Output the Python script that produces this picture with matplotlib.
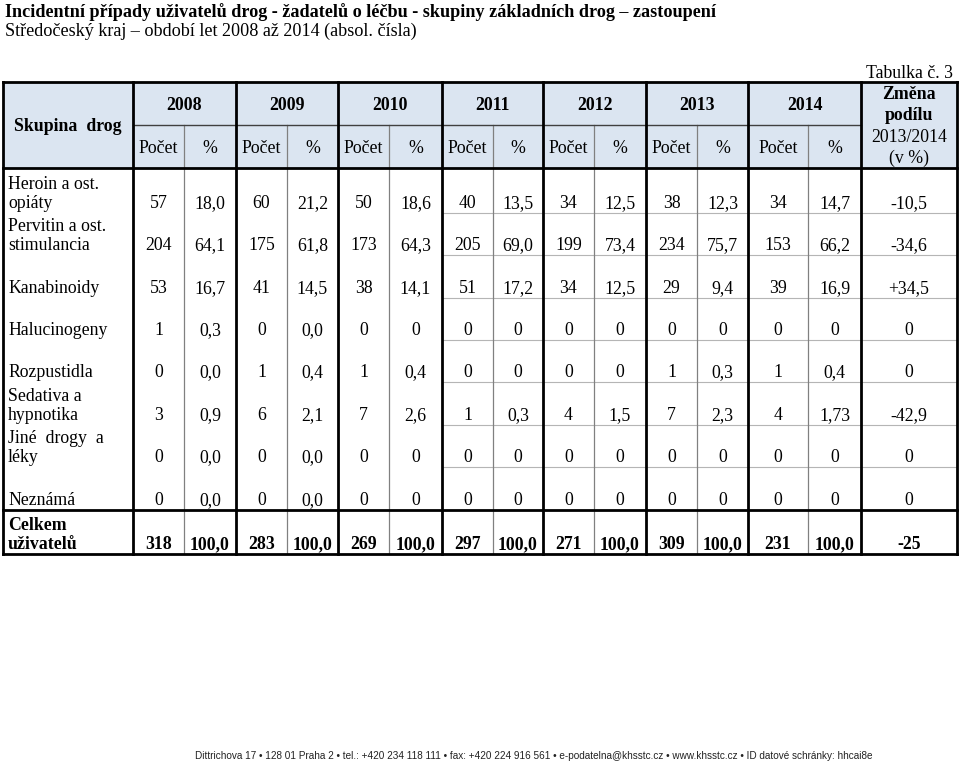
import matplotlib
matplotlib.use("Agg")
import matplotlib.pyplot as plt
from matplotlib.patches import Rectangle

# ---------------- data ----------------
title = "Incidentní případy uživatelů drog - žadatelů o léčbu - skupiny základních drog – zastoupení"
subtitle = "Středočeský kraj – období let 2008 až 2014 (absol. čísla)"
table_no = "Tabulka č. 3"
years = ["2008", "2009", "2010", "2011", "2012", "2013", "2014"]
categories = [["Heroin a ost.", "opiáty"],
              ["Pervitin a ost.", "stimulancia"],
              ["Kanabinoidy"],
              ["Halucinogeny"],
              ["Rozpustidla"],
              ["Sedativa a", "hypnotika"],
              ["Jiné  drogy  a", "léky"],
              ["Neznámá"]]
counts = [
    [57, 60, 50, 40, 34, 38, 34],
    [204, 175, 173, 205, 199, 234, 153],
    [53, 41, 38, 51, 34, 29, 39],
    [1, 0, 0, 0, 0, 0, 0],
    [0, 1, 1, 0, 0, 1, 1],
    [3, 6, 7, 1, 4, 7, 4],
    [0, 0, 0, 0, 0, 0, 0],
    [0, 0, 0, 0, 0, 0, 0],
]
percents = [
    ["18,0", "21,2", "18,6", "13,5", "12,5", "12,3", "14,7"],
    ["64,1", "61,8", "64,3", "69,0", "73,4", "75,7", "66,2"],
    ["16,7", "14,5", "14,1", "17,2", "12,5", "9,4", "16,9"],
    ["0,3", "0,0", "0", "0", "0", "0", "0"],
    ["0,0", "0,4", "0,4", "0", "0", "0,3", "0,4"],
    ["0,9", "2,1", "2,6", "0,3", "1,5", "2,3", "1,73"],
    ["0,0", "0,0", "0", "0", "0", "0", "0"],
    ["0,0", "0,0", "0", "0", "0", "0", "0"],
]
change = ["-10,5", "-34,6", "+34,5", "0", "0", "-42,9", "0", "0"]
total_label = ["Celkem", "uživatelů"]
total_counts = [318, 283, 269, 297, 271, 309, 231]
total_pct = ["100,0"] * 7
total_change = "-25"
footer = ("Dittrichova 17 • 128 01 Praha 2 • tel.: +420 234 118 111 • fax: +420 224 916 561 • "
          "e-podatelna@khsstc.cz • www.khsstc.cz • ID datové schránky: hhcai8e")

# ---------------- layout ----------------
W, H = 960, 765
fig = plt.figure(figsize=(W / 100, H / 100), dpi=100)
ax = fig.add_axes([0, 0, 1, 1])
ax.set_xlim(0, W)
ax.set_ylim(H, 0)
ax.axis("off")

SERIF = "Liberation Serif"
FS = 12.8
xe = [3, 133, 184, 236, 287, 338, 389, 442, 493, 543, 594, 646, 697, 748, 808, 861, 957]
y_top, y_mid, y_head = 82, 125, 168
row_bottoms = [213, 255, 298, 340, 382, 425, 467, 510, 554]
header_fill = "#dbe5f1"

def txt(x, y, s, ha="center", va="baseline", bold=False, fs=FS, family=SERIF, color="black"):
    ax.text(x, y, s, ha=ha, va=va, fontsize=fs, family=family,
            fontweight="bold" if bold else "normal", color=color)

# titles
txt(5, 17, title, ha="left", bold=True, fs=13.1)
txt(5, 36, subtitle, ha="left", fs=13.1)
txt(953, 78, table_no, ha="right")

# header fill
ax.add_patch(Rectangle((xe[0], y_top), xe[-1] - xe[0], y_head - y_top,
                       facecolor=header_fill, edgecolor="none", zorder=0))

# header text
hb_top = (y_top + y_mid) / 2 + 6
hb_low = (y_mid + y_head) / 2 + 6
txt((xe[0] + xe[1]) / 2, (y_top + y_head) / 2 + 6, "Skupina  drog", bold=True)
for i, yr in enumerate(years):
    x0, x1, x2 = xe[1 + 2 * i], xe[2 + 2 * i], xe[3 + 2 * i]
    txt((x0 + x2) / 2, hb_top, yr, bold=True)
    txt((x0 + x1) / 2, hb_low, "Počet")
    txt((x1 + x2) / 2, hb_low, "%")
xc = (xe[-2] + xe[-1]) / 2
txt(xc, 99, "Změna", bold=True)
txt(xc, 120, "podílu", bold=True)
txt(xc, 142, "2013/2014")
txt(xc, 163, "(v %)")

# body
LINE = 19
for r, cat in enumerate(categories):
    bottom = row_bottoms[r]
    base = bottom - 5
    for k, line in enumerate(reversed(cat)):
        txt(8, base - k * LINE, line, ha="left")
    for i in range(7):
        txt((xe[1 + 2 * i] + xe[2 + 2 * i]) / 2, base, str(counts[r][i]))
        txt((xe[2 + 2 * i] + xe[3 + 2 * i]) / 2, base, percents[r][i])
    txt(xc, base, change[r])
    if r < len(categories) - 1:
        ax.plot([xe[7], xe[-1]], [bottom, bottom], color="#b5b5b5", lw=0.8, zorder=1)

# total row
bottom = row_bottoms[-1]
base = bottom - 5
txt(8, base - LINE, total_label[0], ha="left", bold=True)
txt(8, base, total_label[1], ha="left", bold=True)
for i in range(7):
    txt((xe[1 + 2 * i] + xe[2 + 2 * i]) / 2, base, str(total_counts[i]), bold=True)
    txt((xe[2 + 2 * i] + xe[3 + 2 * i]) / 2, base, total_pct[i], bold=True)
txt(xc, base, total_change, bold=True)

# grid lines
y_bot = row_bottoms[-1]
thick, thin = 2.0, 0.9
for i in range(7):
    xs = xe[2 + 2 * i]
    ax.plot([xs, xs], [y_mid, y_bot], color="#808080", lw=thin, zorder=2)
ax.plot([xe[1], xe[-2]], [y_mid, y_mid], color="#404040", lw=1.0, zorder=2)
for j in [0, 1, 3, 5, 7, 9, 11, 13, 15, 16]:
    ax.plot([xe[j], xe[j]], [y_top, y_bot], color="black", lw=thick, zorder=3,
            solid_capstyle="projecting")
for yy in [y_top, y_head, row_bottoms[-2], y_bot]:
    ax.plot([xe[0], xe[-1]], [yy, yy], color="black", lw=thick, zorder=3,
            solid_capstyle="projecting")

# footer
ax.text(534, 756, footer, ha="center", va="center", fontsize=7.2,
        family="Liberation Sans", color="#222222")

fig.savefig("out.png", dpi=100)
